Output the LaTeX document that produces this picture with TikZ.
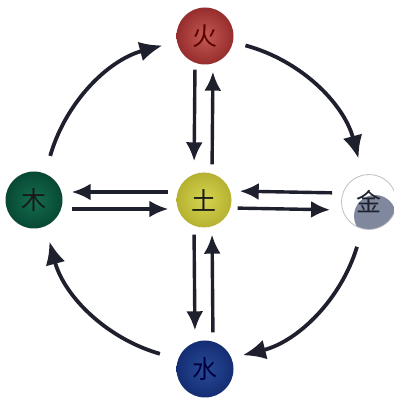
\documentclass[tikz,border=0pt]{standalone}
\usepackage{fontspec}
\newfontfamily\cjk{Noto Sans CJK SC}
\usetikzlibrary{arrows.meta,calc}
\definecolor{ink}{RGB}{30,32,45}
\definecolor{redin}{RGB}{196,90,84}
\definecolor{redout}{RGB}{150,45,45}
\definecolor{grin}{RGB}{20,110,80}
\definecolor{grout}{RGB}{8,72,52}
\definecolor{yin}{RGB}{214,212,80}
\definecolor{yout}{RGB}{180,178,48}
\definecolor{bin}{RGB}{40,75,150}
\definecolor{bout}{RGB}{20,45,115}
\definecolor{metal}{RGB}{128,136,158}
\begin{document}
\begin{tikzpicture}[x=1pt,y=1pt,
  elem/.style={circle, minimum size=57pt, inner sep=0pt, shading=radial,
    font=\cjk\fontsize{25}{25}\selectfont},
  flow/.style={line width=3.4pt, draw=ink, -{Latex[length=19pt,width=17pt]}},
  cyc/.style={line width=3.8pt, draw=ink, -{Latex[length=23pt,width=20pt]}}]
\useasboundingbox (0,0) rectangle (393,398);
\node[elem, inner color=redin, outer color=redout, text=black!65!red] (huo) at (205,362) {火};
\node[elem, inner color=grin, outer color=grout, text=black!90] (mu) at (34,198) {木};
\node[elem, minimum size=55pt, inner color=yin, outer color=yout, text=black!90] (tu) at (204,198) {土};
\node[elem, minimum size=55pt, shading=axis, top color=white, bottom color=white,
  draw=black!25, line width=0.8pt, text=ink,
  path picture={\fill[metal] ([xshift=6pt,yshift=-14pt]path picture bounding box.center) circle[radius=21pt];}] (jin) at (369,196) {金};
\node[elem, inner color=bin, outer color=bout, text=black!75!blue] (shui) at (205,29) {水};
% outer cycle
\draw[cyc] ($(tu.center)+(164:160pt)$) arc[start angle=164, end angle=105, radius=160pt];
\draw[cyc] ($(tu.center)+(75:160pt)$) arc[start angle=75, end angle=15, radius=160pt];
\draw[cyc] ($(tu.center)+(-17:160pt)$) arc[start angle=-17, end angle=-76, radius=160pt];
\draw[cyc] ($(tu.center)+(-106:160pt)$) arc[start angle=-106, end angle=-165, radius=160pt];
% top pair
\draw[flow, shorten <=5pt, shorten >=11pt] ([xshift=-10pt]huo.south) -- ([xshift=-10pt]tu.north);
\draw[flow, shorten <=8pt, shorten >=7pt] ([xshift=8pt]tu.north) -- ([xshift=8pt]huo.south);
% bottom pair
\draw[flow, shorten <=7pt, shorten >=10pt] ([xshift=-10pt]tu.south) -- ([xshift=-10pt]shui.north);
\draw[flow, shorten <=8pt, shorten >=7pt] ([xshift=8pt]shui.north) -- ([xshift=8pt]tu.south);
% left pair
\draw[flow, shorten <=8pt, shorten >=9pt] ([yshift=8pt]tu.west) -- ([yshift=8pt]mu.east);
\draw[flow, shorten <=9pt, shorten >=8pt] ([yshift=-9pt]mu.east) -- ([yshift=-9pt]tu.west);
% right pair
\draw[flow, shorten <=9pt, shorten >=8pt] ([yshift=9pt]jin.west) -- ([yshift=9pt]tu.east);
\draw[flow, shorten <=6pt, shorten >=11pt] ([yshift=-8pt]tu.east) -- ([yshift=-8pt]jin.west);
\end{tikzpicture}
\end{document}
